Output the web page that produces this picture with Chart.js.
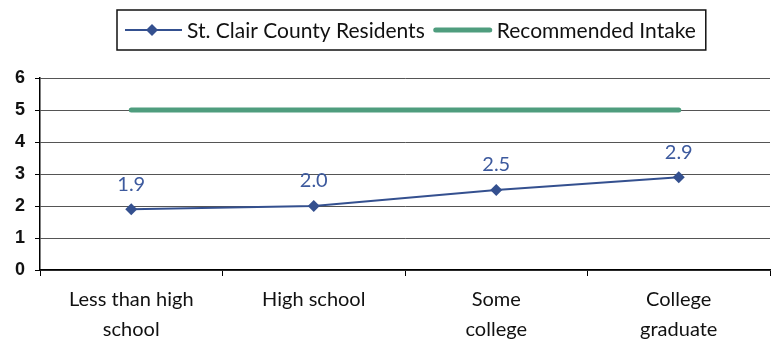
<!DOCTYPE html>
<html>
<head>
<meta charset="utf-8">
<script src="https://cdn.jsdelivr.net/npm/chart.js@4.4.1/dist/chart.umd.min.js"></script>
<style>
  html, body { margin: 0; padding: 0; background: #fff; }
</style>
</head>
<body>
<canvas id="intakeChart" width="776" height="349"></canvas>
<script>
const categories = [["Less than high", "school"], "High school", ["Some", "college"], ["College", "graduate"]];
const residents = [1.9, 2.0, 2.5, 2.9];
const recommended = [5, 5, 5, 5];
const yTicks = [0, 1, 2, 3, 4, 5, 6];

const BLUE = "#34508f";
const GREEN = "#4f9d7e";

// value labels above the residents line
const valueLabelPlugin = {
  id: "valueLabels",
  afterDatasetsDraw(chart) {
    const { ctx } = chart;
    const meta = chart.getDatasetMeta(0);
    ctx.save();
    ctx.font = "20px Lato";
    ctx.fillStyle = "#3d5a9e";
    ctx.textAlign = "center";
    ctx.textBaseline = "middle";
    meta.data.forEach((pt, i) => {
      ctx.fillText(residents[i].toFixed(1), pt.x, pt.y - 25);
    });
    ctx.restore();
  },
};

// boxed legend at the top
const boxLegendPlugin = {
  id: "boxLegend",
  afterDraw(chart) {
    const { ctx } = chart;
    const left = 117, top = 10, h = 40;
    const y = top + h / 2;
    let x = left + 8;
    ctx.save();
    ctx.font = "21px Lato";
    ctx.textBaseline = "middle";
    chart.data.datasets.forEach((ds, i) => {
      const len = i ? 60 : 57;
      ctx.strokeStyle = ds.borderColor;
      ctx.lineWidth = ds.borderWidth;
      ctx.lineCap = i ? "round" : "butt";
      ctx.beginPath();
      ctx.moveTo(x + (i ? 3 : 0), y);
      ctx.lineTo(x + len - (i ? 3 : 0), y);
      ctx.stroke();
      if (ds.pointRadius > 0) {
        const r = ds.pointRadius, cx = x + 27;
        ctx.fillStyle = ds.backgroundColor;
        ctx.beginPath();
        ctx.moveTo(cx, y - r);
        ctx.lineTo(cx + r, y);
        ctx.lineTo(cx, y + r);
        ctx.lineTo(cx - r, y);
        ctx.closePath();
        ctx.fill();
      }
      x += len + (i ? 4 : 5);
      ctx.fillStyle = "#111";
      ctx.fillText(ds.label, x, y + 1);
      x += ctx.measureText(ds.label).width + 8;
    });
    ctx.strokeStyle = "#111";
    ctx.lineWidth = 1.5;
    ctx.strokeRect(left, top, x + 2 - left, h);
    ctx.restore();
  },
};

const chartCtx = document.getElementById("intakeChart").getContext("2d");
const intakeChart = new Chart(chartCtx, {
  type: "line",
  data: {
    labels: categories,
    datasets: [
      {
        label: "St. Clair County Residents",
        data: residents,
        borderColor: BLUE,
        backgroundColor: BLUE,
        borderWidth: 2,
        pointStyle: "rectRot",
        pointRadius: 6,
        pointBorderWidth: 0,
      },
      {
        label: "Recommended Intake",
        data: recommended,
        borderColor: GREEN,
        backgroundColor: GREEN,
        borderWidth: 5,
        borderCapStyle: "round",
        pointRadius: 0,
      },
    ],
  },
  options: {
    responsive: false,
    animation: false,
    layout: {
      padding: { top: 78, left: 0, right: 0, bottom: 0 },
    },
    scales: {
      x: {
        offset: true,
        border: { color: "#000", width: 1.5 },
        grid: {
          offset: true,
          drawOnChartArea: false,
          tickLength: 6,
          tickColor: "#000",
        },
        ticks: {
          padding: 9,
          color: "#111",
          maxRotation: 0,
          font: { family: "Lato", size: 20, lineHeight: 1.5 },
        },
        afterFit(scale) {
          scale.height = 79;
        },
      },
      y: {
        min: 0,
        max: 6,
        border: { color: "#000", width: 1.5 },
        grid: {
          color: "#555",
          tickColor: "#000",
          tickLength: 5,
        },
        ticks: {
          stepSize: 1,
          padding: 10,
          color: "#111",
          font: { family: "Liberation Sans", size: 18, weight: "bold" },
        },
        afterBuildTicks(scale) {
          scale.ticks = yTicks.map((v) => ({ value: v }));
        },
        afterFit(scale) {
          scale.width = 40;
        },
      },
    },
    plugins: {
      legend: { display: false },
      tooltip: { enabled: false },
    },
  },
  plugins: [valueLabelPlugin, boxLegendPlugin],
});
</script>
</body>
</html>
